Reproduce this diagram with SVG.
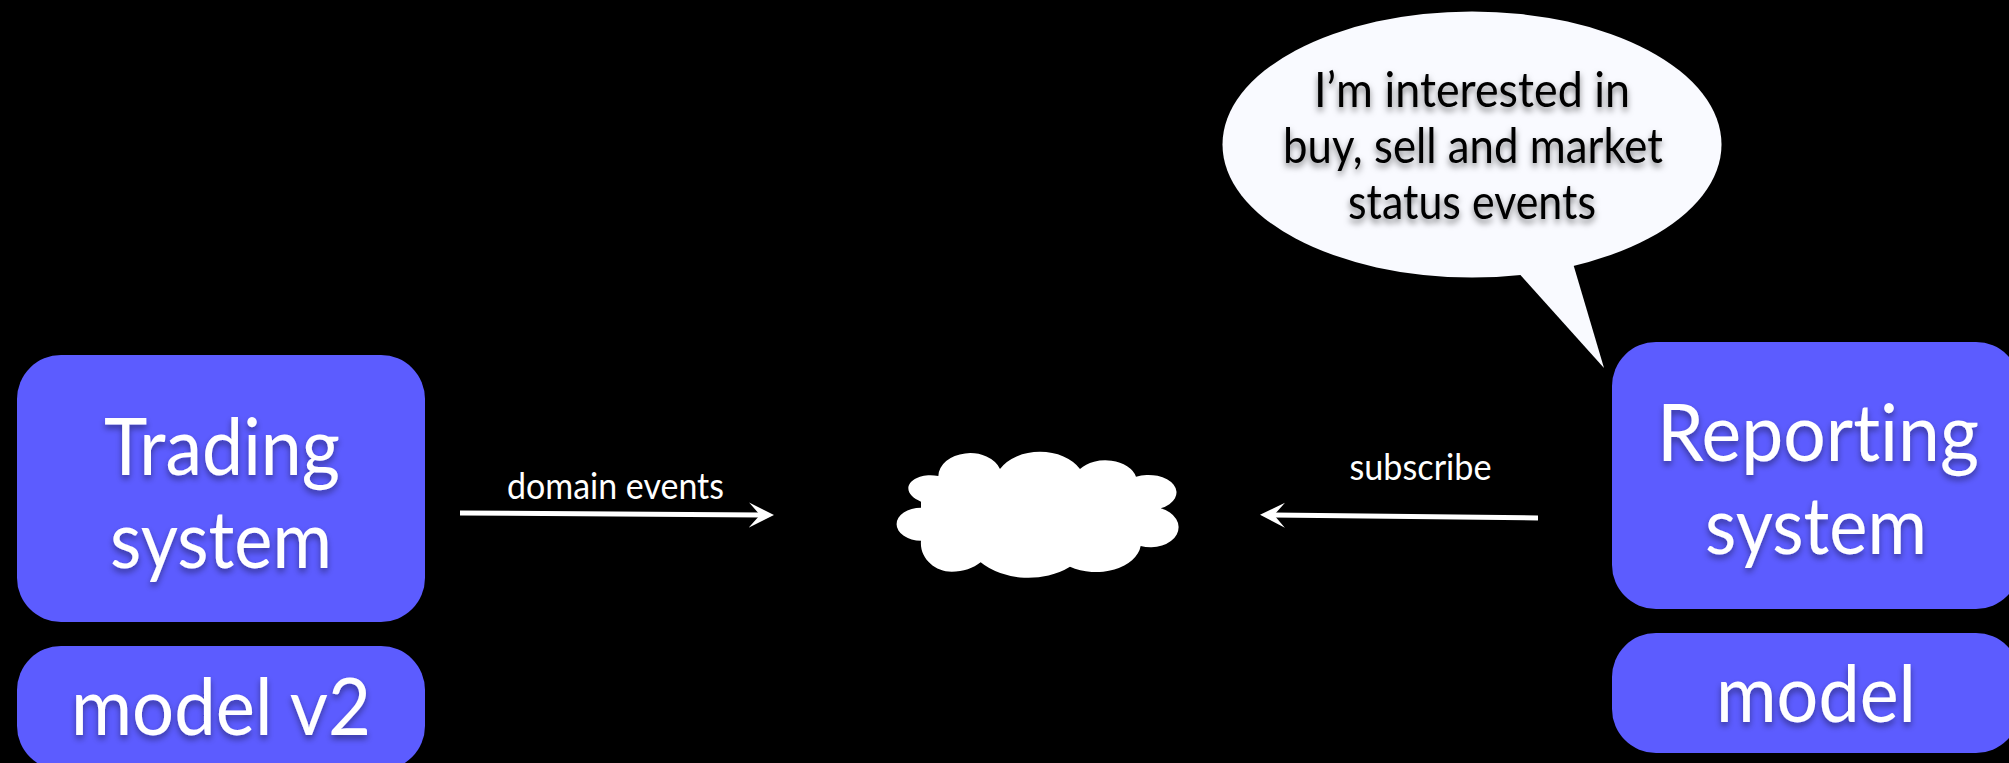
<svg xmlns="http://www.w3.org/2000/svg" width="2009" height="763" viewBox="0 0 2009 763">
<style>
text{font-family:Lato,"Liberation Sans",sans-serif;text-anchor:middle;font-variant-ligatures:none}
.box{fill:#5c5cff}
.big{font-size:79px;fill:#fff;filter:url(#ts)}
.say{font-size:48px;fill:#000;filter:url(#ts2)}
.lab{font-size:36px;fill:#fff}
.conn{stroke:#fff;stroke-width:5;fill:none;marker-end:url(#head)}
</style>
<defs>
<filter id="ts" x="-10%" y="-20%" width="120%" height="150%"><feDropShadow dx="0" dy="4" stdDeviation="3" flood-color="#000" flood-opacity=".4"/></filter>
<filter id="ts2" x="-10%" y="-20%" width="120%" height="150%"><feDropShadow dx="0" dy="4" stdDeviation="3" flood-color="#000" flood-opacity=".5"/></filter>
<marker id="head" markerUnits="userSpaceOnUse" markerWidth="26" markerHeight="26" refX="12" refY="12.5" orient="auto"><path d="M0 0L25 12.5L0 25L11 12.5Z" fill="#fff"/></marker>
</defs>
<rect width="2009" height="763" fill="#000"/>
<g id="connectors">
<line class="conn" x1="460" y1="513" x2="761" y2="515"/>
<line class="conn" x1="1538" y1="518" x2="1273" y2="515"/>
</g>
<g id="trading-system"><rect class="box" x="17" y="355" width="408" height="267" rx="44"/><text class="big" x="222" y="475" textLength="236" lengthAdjust="spacingAndGlyphs">Trading</text><text class="big" x="221" y="568" textLength="222" lengthAdjust="spacingAndGlyphs">system</text></g>
<g id="model-v2"><rect class="box" x="17" y="646" width="408" height="124" rx="44"/><text class="big" x="221" y="735" textLength="300" lengthAdjust="spacingAndGlyphs">model v2</text></g>
<g id="reporting-system"><rect class="box" x="1612" y="342" width="408" height="267" rx="44"/><text class="big" x="1818" y="461" textLength="322" lengthAdjust="spacingAndGlyphs">Reporting</text><text class="big" x="1816" y="554" textLength="222" lengthAdjust="spacingAndGlyphs">system</text></g>
<g id="model"><rect class="box" x="1612" y="633" width="408" height="120" rx="44"/><text class="big" x="1816" y="722" textLength="200" lengthAdjust="spacingAndGlyphs">model</text></g>
<g id="cloud"><path fill="#fff" transform="translate(860 420) scale(.33333)" d="M235 168A95 70 0 0 1 420 147A135 95 0 0 1 660 147A95 65 0 0 1 828 170A80 50 0 0 1 902 265A72 52 0 1 1 842 378A135 88 0 0 1 630 440A190 135 0 0 1 362 427C340 445 310 455 275 455C225 455 178 415 183 362A71 48 0 0 1 183 263L183 245C160 235 145 222 145 205C145 178 190 158 235 168Z"/></g>
<g id="callout"><ellipse cx="1472" cy="144.500" rx="249.500" ry="133" fill="#f9faff"/><path fill="#f9faff" d="M1516 270L1604 368L1572 260Z"/><text class="say" x="1472" y="107" textLength="316" lengthAdjust="spacingAndGlyphs">I’m interested in</text><text class="say" x="1473" y="163" textLength="380" lengthAdjust="spacingAndGlyphs">buy, sell and market</text><text class="say" x="1472" y="219" textLength="248" lengthAdjust="spacingAndGlyphs">status events</text></g>
<g id="labels"><text class="lab" x="615.500" y="499" textLength="217" lengthAdjust="spacingAndGlyphs">domain events</text><text class="lab" x="1420.500" y="480" textLength="142" lengthAdjust="spacingAndGlyphs">subscribe</text></g>
</svg>
